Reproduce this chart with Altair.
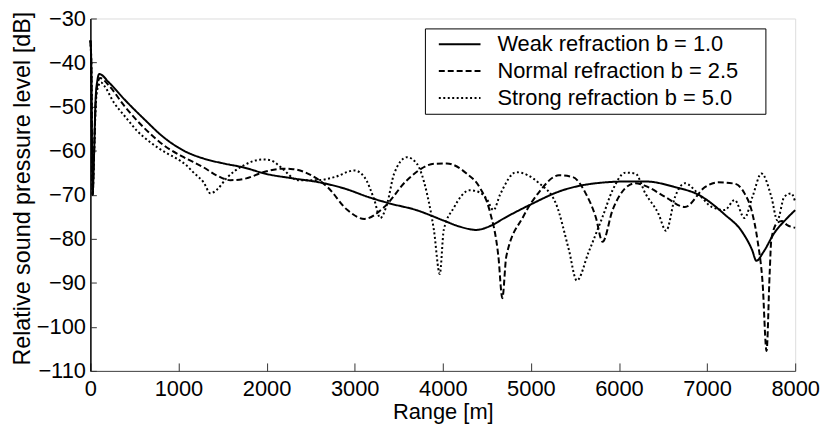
import altair as alt
import pandas as pd

FONT = "Liberation Sans"

series_names = [
    "Weak refraction b = 1.0",
    "Normal refraction b = 2.5",
    "Strong refraction b = 5.0",
]

weak_x = [0, 10, 25, 40, 60, 80, 100, 214, 383, 608, 834, 1059, 1285, 1510, 1735,
          2000, 2300, 2600, 2900, 3150, 3400, 3700, 4000, 4200, 4380, 4550, 4700,
          4980, 5360, 5740, 6100, 6300, 6640, 6900, 7200, 7400, 7510, 7560, 7640,
          7763, 7900, 8000]
weak_y = [-35, -40, -70, -62, -48, -44, -42.6, -44.6, -48.3, -52.8, -57, -60, -61.8,
          -62.9, -63.8, -65.3, -66.3, -67.2, -68.7, -70.5, -72, -73.5, -75.8, -77.3,
          -78, -77, -75.3, -72.4, -69, -67.4, -67, -67, -68.3, -70, -74.5, -78.5,
          -82.5, -85, -83, -78.7, -75.5, -73.5]

normal_x = [0, 10, 25, 40, 60, 80, 110, 214, 383, 608, 834, 1059, 1285, 1431, 1589,
            1769, 1960, 2186, 2300, 2468, 2693, 2918, 3110, 3335, 3594, 3899, 4045,
            4270, 4417, 4530, 4631, 4676, 4721, 4913, 5093, 5318, 5476, 5622, 5735,
            5814, 5927, 6073, 6186, 6299, 6524, 6749, 6975, 7121, 7313, 7425, 7504,
            7572, 7630, 7675, 7710, 7730, 7797, 7850, 7910, 8000]
normal_y = [-35, -40, -70, -62, -49, -45, -43.5, -45.3, -49.8, -54.8, -58.8, -61.5,
            -63.8, -65.6, -66.7, -66.3, -64.9, -64.1, -64.2, -65.2, -68.3, -73.5,
            -75.5, -72.8, -66.7, -63, -62.9, -65.2, -68.3, -73.5, -84, -93.5, -84,
            -75, -69.4, -65.6, -66, -69.7, -75, -80.7, -73.5, -68.5, -67.4, -68,
            -70.5, -72.8, -68.3, -67.2, -67.5, -69.7, -73.5, -80.3, -90, -105.5, -88,
            -80, -76.4, -76, -76.9, -77.5]

strong_x = [0, 10, 25, 40, 60, 80, 120, 158, 270, 383, 530, 687, 868, 980, 1093,
            1172, 1285, 1363, 1440, 1544, 1735, 1960, 2050, 2163, 2355, 2580, 2772,
            2997, 3110, 3223, 3290, 3369, 3448, 3594, 3707, 3820, 3899, 3966, 4011,
            4124, 4304, 4420, 4500, 4575, 4650, 4834, 5093, 5284, 5431, 5521, 5656,
            5814, 5927, 6073, 6186, 6299, 6445, 6535, 6637, 6749, 6896, 7054, 7200,
            7313, 7425, 7515, 7617, 7730, 7797, 7876, 7955, 8000]
strong_y = [-35, -40, -70, -62, -50, -46, -44.5, -45.3, -49.2, -52, -55.5, -58.2,
            -60.6, -61.8, -63.4, -65, -67.2, -69.7, -68.8, -66.3, -63.4, -62, -62.2,
            -63.8, -66.7, -66.7, -66, -64.5, -66, -71.2, -75.3, -72, -65.2, -61.5,
            -63, -69.7, -78, -88, -78, -73, -69, -69.5, -71, -73.5, -70, -64.9,
            -67.4, -72, -82.5, -89.5, -83, -75, -69, -65, -65.2, -69.7, -74.2, -78.2,
            -70.5, -67.4, -69.7, -72.8, -73.5, -71.2, -75.3, -70.5, -65.2, -70.5,
            -75.8, -70.5, -69.7, -71.6]

x_ticks = [0, 1000, 2000, 3000, 4000, 5000, 6000, 7000, 8000]
y_ticks = [-110, -100, -90, -80, -70, -60, -50, -40, -30]

rows = []
for name, xs, ys in zip(series_names, [weak_x, normal_x, strong_x], [weak_y, normal_y, strong_y]):
    for i, (xv, yv) in enumerate(zip(xs, ys)):
        rows.append({"series": name, "range": xv, "spl": yv, "idx": i})
df = pd.DataFrame(rows)

xscale = alt.Scale(domain=[0, 8000], nice=False, zero=False)
yscale = alt.Scale(domain=[-110, -30], nice=False, zero=False)

base = alt.Chart(df)

lines = base.mark_line(interpolate="monotone", strokeWidth=2, color="black").encode(
    x=alt.X("range:Q", scale=xscale,
            axis=alt.Axis(values=x_ticks, format="d", title="Range [m]", ticks=False,
                          tickSize=0, grid=False, labelFont=FONT, labelFontSize=22,
                          labelColor="black", labelPadding=8, titleFont=FONT,
                          titleFontSize=22, titleFontWeight="normal", titleColor="black",
                          titlePadding=2, domainColor="#444444", domainWidth=1,
                          labelFlush=False)),
    y=alt.Y("spl:Q", scale=yscale,
            axis=alt.Axis(values=y_ticks, format="d",
                          title="Relative sound pressure level [dB]",
                          ticks=False, tickSize=0, grid=False, labelFont=FONT,
                          labelFontSize=22, labelColor="black", labelPadding=5,
                          titleFont=FONT, titleFontSize=23.5, titleFontWeight="normal",
                          titleColor="black", titlePadding=2, titleY=171,
                          domainColor="black", domainWidth=1.5, labelFlush=False)),
    strokeDash=alt.StrokeDash(
        "series:N", sort=series_names,
        scale=alt.Scale(domain=series_names, range=[[1, 0], [6, 3], [2, 2.5]]),
        legend=alt.Legend(orient="none", legendX=337, legendY=10, title=" ",
                          titleOrient="right", titlePadding=22, titleFontSize=22,
                          titleFont=FONT,
                          strokeColor="black", fillColor="white", padding=5,
                          symbolType="stroke", symbolSize=1764, symbolStrokeWidth=2,
                          symbolStrokeColor="black", symbolOffset=8,
                          labelFont=FONT, labelFontSize=22, labelColor="black",
                          labelOffset=16, clipHeight=22, rowPadding=5, labelLimit=500)),
    order="idx:Q",
)

tick_layer = base.mark_line(opacity=0).encode(
    x=alt.X("range:Q", scale=xscale,
            axis=alt.Axis(orient="top", offset=-355, values=x_ticks, labels=False,
                          domain=False, ticks=True, tickSize=8, tickColor="#333333",
                          tickWidth=1, grid=False, title=None)),
    y=alt.Y("spl:Q", scale=yscale,
            axis=alt.Axis(orient="right", offset=-710, values=y_ticks, labels=False,
                          domain=False, ticks=True, tickSize=6, tickColor="#333333",
                          tickWidth=1, grid=False, title=None)),
    detail="series:N",
)

chart = (
    alt.layer(lines, tick_layer)
    .resolve_axis(x="independent", y="independent")
    .properties(width=710, height=355,
                autosize=alt.AutoSizeParams(type="none"),
                padding={"left": 83, "top": 9, "right": 25, "bottom": 60})
    .configure_view(stroke=None)
    .configure(background="white")
)

chart.save("out.html", embed_options={"renderer": "svg", "actions": False})
